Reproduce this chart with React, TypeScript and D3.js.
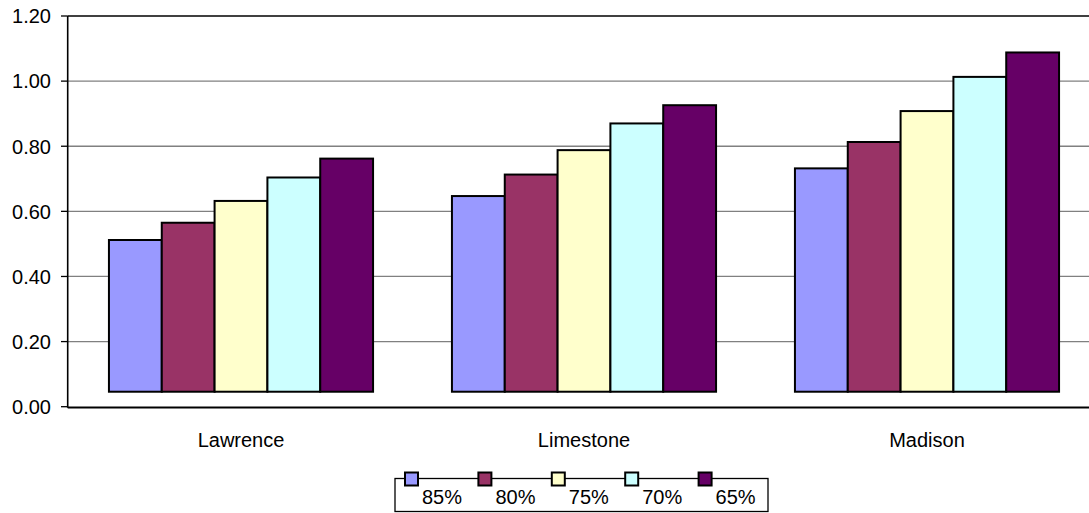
import React from "react";
import * as d3 from "d3";

const categories = ["Lawrence", "Limestone", "Madison"];
const seriesNames = ["85%", "80%", "75%", "70%", "65%"];
const seriesColors = ["#9999FF", "#993366", "#FFFFCC", "#CCFFFF", "#660066"];
const lawrence = [0.512, 0.565, 0.632, 0.704, 0.762];
const limestone = [0.647, 0.713, 0.788, 0.87, 0.926];
const madison = [0.732, 0.813, 0.908, 1.013, 1.088];
const values = [lawrence, limestone, madison];
const yTicks = [0, 0.2, 0.4, 0.6, 0.8, 1.0, 1.2];
const barBase = 0.046;

const W = 1089;
const H = 513;
const FONT = "'Liberation Sans', Arial, sans-serif";

export default function App() {
  const axisX = 67.7;
  const y = d3.scaleLinear().domain([0, 1.2]).range([406.7, 16]);
  const x = d3
    .scaleBand<string>()
    .domain(categories)
    .range([69.5, 1098.5])
    .paddingInner(0.23)
    .paddingOuter(0.115);
  const xs = d3
    .scaleBand<string>()
    .domain(seriesNames)
    .range([0, x.bandwidth()]);

  const legendX0 = 405;
  const legendStep = 73.4;

  return (
    <svg
      width={W}
      height={H}
      style={{ position: "absolute", left: 0, top: 0, background: "#fff" }}
      fontFamily={FONT}
    >
      {/* gridlines */}
      {yTicks.slice(0, -1).map((t) => (
        <line
          key={"g" + t}
          x1={axisX}
          x2={W}
          y1={y(t)}
          y2={y(t)}
          stroke="#808080"
          strokeWidth={1.3}
        />
      ))}
      {/* top border */}
      <line x1={axisX} x2={W} y1={y(1.2)} y2={y(1.2)} stroke="#000" strokeWidth={1.6} />

      {/* bars */}
      {categories.map((c, ci) => (
        <g key={c} transform={`translate(${x(c)},0)`}>
          {seriesNames.map((s, si) => {
            const v = values[ci][si];
            return (
              <rect
                key={s}
                x={xs(s)}
                y={y(v)}
                width={xs.bandwidth()}
                height={y(barBase) - y(v)}
                fill={seriesColors[si]}
                stroke="#000"
                strokeWidth={2}
              />
            );
          })}
        </g>
      ))}

      {/* axes */}
      <line x1={axisX} x2={axisX} y1={y(1.2)} y2={y(0) + 1} stroke="#000" strokeWidth={1.6} />
      <line x1={axisX} x2={W} y1={y(0) + 1} y2={y(0) + 1} stroke="#000" strokeWidth={1.6} />
      {yTicks.map((t) => (
        <g key={"t" + t}>
          <line x1={61} x2={axisX} y1={y(t)} y2={y(t)} stroke="#000" strokeWidth={1.3} />
          <text x={51} y={y(t) + 7.3} textAnchor="end" fontSize={20} fill="#000">
            {d3.format(".2f")(t)}
          </text>
        </g>
      ))}
      {categories.map((c) => (
        <text
          key={"l" + c}
          x={(x(c) as number) + x.bandwidth() / 2}
          y={447}
          textAnchor="middle"
          fontSize={20}
          fill="#000"
        >
          {c}
        </text>
      ))}

      {/* legend */}
      <rect x={395} y={478.5} width={373} height={33} fill="#fff" stroke="#000" strokeWidth={1.3} />
      {seriesNames.map((s, i) => {
        const lx = legendX0 + i * legendStep;
        return (
          <g key={"lg" + s}>
            <rect x={lx} y={472.5} width={13} height={13} fill={seriesColors[i]} stroke="#000" strokeWidth={2} />
            <text x={lx + 17} y={504} fontSize={20} fill="#000">
              {s}
            </text>
          </g>
        );
      })}
    </svg>
  );
}
